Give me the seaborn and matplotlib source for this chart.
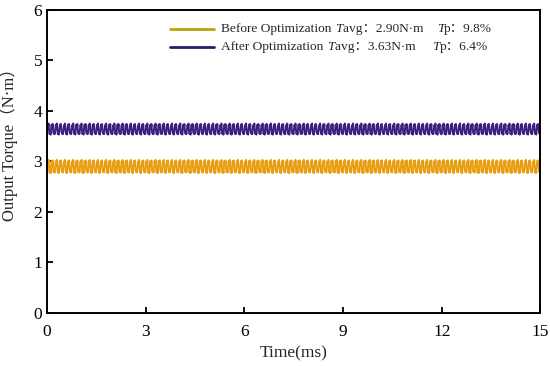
import numpy as np
import pandas as pd
import matplotlib
matplotlib.use('Agg')
import matplotlib.pyplot as plt
from matplotlib.lines import Line2D
from matplotlib.offsetbox import TextArea, DrawingArea, HPacker, VPacker, AnchoredOffsetbox
import seaborn as sns

# one ripple cycle for each curve (N·m), repeated over 15 ms
before_cycle = [2.90, 3.00, 2.95, 3.03, 2.88, 2.78, 2.85, 2.77,
                2.92, 3.01, 2.93, 3.02, 2.86, 2.79, 2.83, 2.78]
after_cycle = [3.63, 3.72, 3.68, 3.75, 3.61, 3.54, 3.58, 3.53,
               3.65, 3.73, 3.66, 3.74, 3.60, 3.55, 3.57, 3.54]
n_cycles = 60
before_torque = np.tile(before_cycle, n_cycles)
after_torque = np.tile(after_cycle, n_cycles)
time_ms = np.linspace(0, 15, len(before_torque))

x_ticks = [0, 3, 6, 9, 12, 15]
y_ticks = [0, 1, 2, 3, 4, 5, 6]
# legend pieces: (text, italic)
legend_rows = [
    [('Before Optimization ', False), ('T', True), ('avg\uff1a2.90N\u00b7m    ', False),
     ('T', True), ('p\uff1a9.8%', False)],
    [('After Optimization ', False), ('T', True), ('avg\uff1a3.63N\u00b7m     ', False),
     ('T', True), ('p\uff1a6.4%', False)],
]
legend_colors = ['#B9A400', '#2B1A6B']

df = pd.DataFrame({
    'time': np.concatenate([time_ms, time_ms]),
    'torque': np.concatenate([before_torque, after_torque]),
    'case': ['Before'] * len(time_ms) + ['After'] * len(time_ms),
})

sns.set_style('ticks')
fams = ['Liberation Serif', 'Noto Sans CJK SC']
plt.rcParams['font.family'] = fams

fig = plt.figure(figsize=(5.5, 3.66), dpi=100)
ax = fig.add_axes([0.0855, 0.145, 0.897, 0.828])
sns.lineplot(data=df, x='time', y='torque', hue='case',
             palette={'Before': '#E89E10', 'After': '#3D1F7E'},
             linewidth=1.4, ax=ax, legend=False, estimator=None)

ax.set_xlim(0, 15)
ax.set_ylim(0, 6)
ax.set_xticks(x_ticks)
ax.set_yticks(y_ticks)
ax.tick_params(direction='in', length=4, width=1.3, labelsize=12.5, colors='black')
ax.tick_params(axis='x', pad=8)
for s in ax.spines.values():
    s.set_linewidth(1.4)
    s.set_color('black')
    s.set_visible(True)
ax.set_xlabel('Time(ms)', fontsize=12.5, labelpad=4)
ax.set_ylabel('Output Torque\uff08N\u00b7m\uff09', fontsize=12)
ax.yaxis.set_label_coords(-0.058, 0.57)

# custom legend with italic T
rows = []
for pieces, col in zip(legend_rows, legend_colors):
    da = DrawingArea(32, 8)
    da.add_artist(Line2D([0, 32], [4, 4], color=col, lw=2))
    texts = [TextArea(t, textprops=dict(fontsize=9.6, family=fams,
                                         style='italic' if it else 'normal'))
             for t, it in pieces]
    rows.append(HPacker(children=[da, HPacker(children=texts, pad=0, sep=0)],
                        pad=0, sep=5, align='center'))
box = VPacker(children=rows, pad=0, sep=4, align='left')
anchored = AnchoredOffsetbox(loc='upper left', child=box, frameon=False,
                             bbox_to_anchor=(0.238, 0.975), bbox_transform=ax.transAxes,
                             borderpad=0)
ax.add_artist(anchored)

fig.savefig('out.png', dpi=100)
